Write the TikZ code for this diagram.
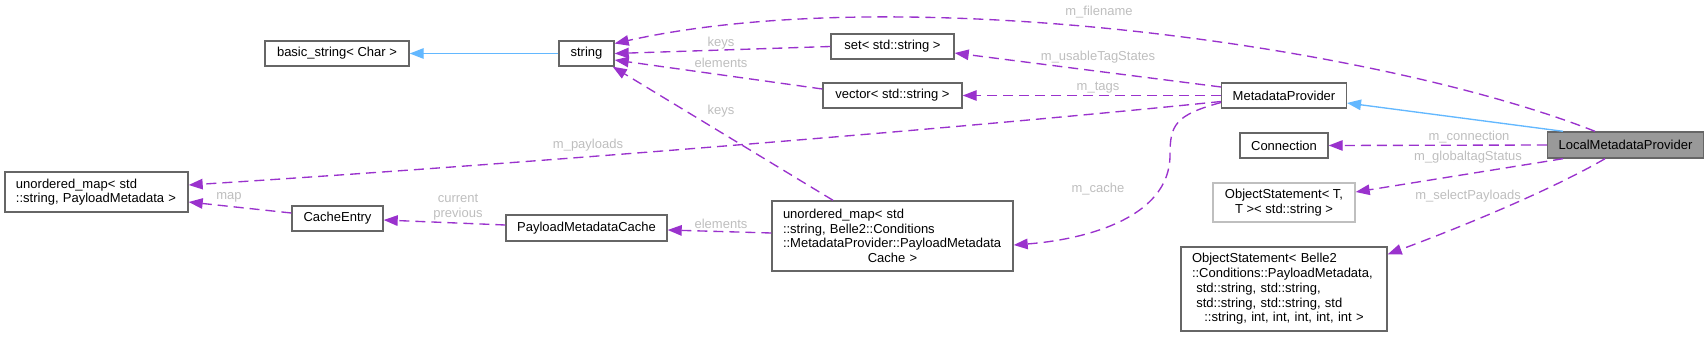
\documentclass[tikz,border=0pt]{standalone}
\usepackage{fontspec}
\setmainfont{Liberation Sans}
\usetikzlibrary{arrows.meta}
\definecolor{Usage}{HTML}{9A32CD}
\definecolor{Inherit}{HTML}{63B8FF}
\definecolor{Frame}{HTML}{666666}
\definecolor{FrameLight}{HTML}{BFBFBF}
\definecolor{Current}{HTML}{999999}
\definecolor{Label}{HTML}{BEBEBE}
\newcommand{\docleft}[1]{\makebox[\hsize][l]{#1}}
\tikzset{box/.style={draw=Frame,fill=white,line width=1.4pt,minimum height=25pt,inner xsep=11pt,inner ysep=3pt,font=\fontsize{13}{14.7}\selectfont,align=center},undoc/.style={box,draw=FrameLight},curbox/.style={box,fill=Current},uses/.style={-{Triangle[length=14pt,width=10.5pt]},line width=1.35pt,draw=Usage,dash pattern=on 10pt off 6pt},inherits/.style={-{Triangle[length=14pt,width=10.5pt]},line width=1.35pt,draw=Inherit},lbl/.style={text=Label,font=\fontsize{13}{14.7}\selectfont,inner sep=0pt,align=center}}
\begin{document}
\begin{tikzpicture}[x=1pt,y=-1pt]
      \useasboundingbox (0,0) rectangle (1708,337);
      \node[box,minimum width=144pt](basicstr) at (337,53.5){basic\_string< Char >};
      \node[box,minimum width=55pt](str) at (586.5,53.5){string};
      \node[box,minimum width=123pt](setstr) at (892.5,46.5){set< std::string >};
      \node[box,minimum width=139pt](vecstr) at (892.5,95.5){vector< std::string >};
      \node[box,minimum width=183pt,minimum height=40pt,text width=161pt,align=left](umappay) at (96.5,192){unordered\_map< std\\::string, PayloadMetadata >};
      \node[box,minimum width=91pt](cacheentry) at (337.5,218.5){CacheEntry};
      \node[box,minimum width=161pt,minimum height=26pt](pmcache) at (586.5,228){PayloadMetadataCache};
      \node[box,minimum width=241pt,minimum height=70pt,text width=219pt](umapcache) at (892.5,236){\docleft{unordered\_map< std}\\\docleft{::string, Belle2::Conditions}\\\docleft{::MetadataProvider::PayloadMetadata}\\Cache >};
      \node[box,minimum width=124pt](metaprov) at (1284,95.5){MetadataProvider};
      \node[box,minimum width=88pt](connection) at (1284,145.5){Connection};
      \node[undoc,minimum width=142pt,minimum height=39pt](objstr) at (1284,202.5){ObjectStatement< T,\\T >< std::string >};
      \node[box,minimum width=206pt,minimum height=84pt,text width=184pt](objpay) at (1284,289){\docleft{ObjectStatement< Belle2}\\\docleft{::Conditions::PayloadMetadata,}\\\docleft{\ std::string, std::string,}\\\docleft{\ std::string, std::string, std}\\::string, int, int, int, int, int >};
      \node[curbox,minimum width=155pt,minimum height=26pt](local) at (1625.5,145){LocalMetadataProvider};
      \draw[inherits](str.west)--(basicstr.east);
      \draw[inherits]([xshift=-62.5pt]local.north)--([yshift=-7.5pt]metaprov.east);
      \draw[uses](setstr.west)--(str.east) node[lbl] at (721,43){keys};
      \draw[uses]([yshift=6.5pt]vecstr.west)--([yshift=-6.5pt]str.east) node[lbl] at (721,63){elements};
      \draw[uses]([xshift=-59.5pt]umapcache.north)--([xshift=-2pt]str.south east) node[lbl] at (721,111){keys};
      \draw[uses]([xshift=-30.5pt]local.north) .. controls (1375,45) and (900,-20) .. ([yshift=10pt]str.east) node[lbl] at (1099,12){m\_filename};
      \draw[uses]([yshift=8.5pt]metaprov.west)--([yshift=-6.5pt]setstr.east) node[lbl] at (1098,57){m\_usableTagStates};
      \draw[uses](metaprov.west)--(vecstr.east) node[lbl] at (1098,88){m\_tags};
      \draw[uses]([yshift=-6pt]metaprov.west) .. controls (922,132) and (488,166) .. ([yshift=7pt]umappay.east) node[lbl] at (588,145){m\_payloads};
      \draw[uses]([yshift=-7pt]metaprov.west) .. controls (1175,115) and (1170,125) .. (1170,155) .. controls (1170,220) and (1080,240) .. ([yshift=-9pt]umapcache.east) node[lbl] at (1098,189){m\_cache};
      \draw[uses]([yshift=3pt]umapcache.west)--([yshift=-2pt]pmcache.east) node[lbl] at (721,224){elements};
      \draw[uses]([yshift=3pt]pmcache.west)--([yshift=-1.5pt]cacheentry.east) node[lbl] at (458,207){current\\previous};
      \draw[uses]([yshift=5.5pt]cacheentry.west)--([yshift=-10pt]umappay.east) node[lbl] at (229,197){map};
      \draw[uses](local.west)--(connection.east) node[lbl] at (1469,137){m\_connection};
      \draw[uses]([xshift=-62.5pt]local.south)--([yshift=10.5pt]objstr.east) node[lbl] at (1468,157){m\_globaltagStatus};
      \draw[uses]([xshift=-20.5pt]local.south) .. controls (1560,185) and (1480,220) .. ([yshift=-8pt]objpay.north east) node[lbl] at (1468,196){m\_selectPayloads};
    \end{tikzpicture}
\end{document}
